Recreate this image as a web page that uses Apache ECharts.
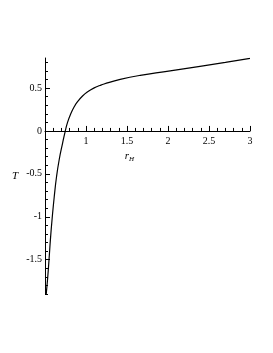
<!DOCTYPE html>
<html>
<head>
<meta charset="utf-8">
<script src="https://cdn.jsdelivr.net/npm/echarts@6/dist/echarts.min.js"></script>
<style>
html,body{margin:0;padding:0;background:#fff;}
#c{width:273px;height:353px;}
</style>
</head>
<body>
<div id="c"></div>
<script>
var rH = [0.515, 0.532, 0.549, 0.568, 0.589, 0.613, 0.641, 0.674, 0.714, 0.745, 0.775, 0.817, 0.857, 0.897, 0.958, 1.019, 1.10, 1.17, 1.22, 1.417, 1.661, 1.986, 2.39, 2.7, 3.0];
var T = [-1.9, -1.72, -1.5, -1.24, -1.0, -0.764, -0.531, -0.33, -0.145, -0.01, 0.10, 0.206, 0.283, 0.341, 0.407, 0.455, 0.502, 0.53, 0.547, 0.600, 0.648, 0.695, 0.753, 0.798, 0.845];
var xMajor = [1, 1.5, 2, 2.5, 3];
var yMajor = [-1.5, -1, -0.5, 0, 0.5];
var xMinor = [];
for (var i = 6; i <= 30; i++) xMinor.push(i / 10);
var yMinor = [];
for (var j = -19; j <= 8; j++) yMinor.push(j / 10);

var X_MIN = 0.5, X_MAX = 3, Y_MIN = -1.9, Y_MAX = 0.85;
var GRID = {left: 45, right: 23, top: 58, bottom: 59};
var H = 353;
var gridH = H - GRID.top - GRID.bottom;
var zeroOffset = -gridH * (0 - Y_MIN) / (Y_MAX - Y_MIN);

var font = 'Liberation Serif';
var pts = rH.map(function (r, k) { return [r, T[k]]; });

var chart = echarts.init(document.getElementById('c'), null, {renderer: 'canvas'});
chart.setOption({
  animation: false,
  grid: {left: GRID.left, right: GRID.right, top: GRID.top, bottom: GRID.bottom, containLabel: false},
  xAxis: [{
    type: 'value', min: X_MIN, max: X_MAX, position: 'bottom', offset: zeroOffset,
    axisLine: {onZero: false, lineStyle: {color: '#000', width: 1}},
    axisTick: {show: true, inside: true, length: 5, customValues: xMajor, lineStyle: {color: '#000'}},
    axisLabel: {show: true, customValues: xMajor, color: '#000', fontFamily: font, fontSize: 10, margin: 5},
    splitLine: {show: false},
    name: '{a|r}{b|H}',
    nameLocation: 'middle', nameGap: 16,
    nameTextStyle: {
      padding: [0, 36, 0, 0],
      rich: {
        a: {fontFamily: font, fontStyle: 'italic', fontSize: 11, color: '#000'},
        b: {fontFamily: font, fontStyle: 'italic', fontSize: 7, color: '#000', padding: [6, 0, 0, 0]}
      }
    }
  }, {
    type: 'value', min: X_MIN, max: X_MAX, position: 'bottom', offset: zeroOffset,
    axisLine: {show: false, onZero: false},
    axisTick: {show: true, inside: true, length: 3, customValues: xMinor, lineStyle: {color: '#000'}},
    axisLabel: {show: false},
    splitLine: {show: false}
  }],
  yAxis: [{
    type: 'value', min: Y_MIN, max: Y_MAX, position: 'left',
    axisLine: {show: true, onZero: false, lineStyle: {color: '#000', width: 1}},
    axisTick: {show: true, inside: true, length: 5, customValues: yMajor, lineStyle: {color: '#000'}},
    axisLabel: {show: true, customValues: yMajor, color: '#000', fontFamily: font, fontSize: 10, margin: 3},
    splitLine: {show: false},
    name: 'T', nameLocation: 'middle', nameGap: 27, nameRotate: 0,
    nameTextStyle: {fontFamily: font, fontStyle: 'italic', fontSize: 11, color: '#000', padding: [0, 0, 4, 0]}
  }, {
    type: 'value', min: Y_MIN, max: Y_MAX, position: 'left',
    axisLine: {show: false, onZero: false},
    axisTick: {show: true, inside: true, length: 3, customValues: yMinor, lineStyle: {color: '#000'}},
    axisLabel: {show: false},
    splitLine: {show: false}
  }],
  series: [{
    type: 'line', xAxisIndex: 0, yAxisIndex: 0,
    data: pts, smooth: 0.5, showSymbol: false,
    lineStyle: {color: '#000', width: 1.2}
  }]
});
</script>
</body>
</html>
